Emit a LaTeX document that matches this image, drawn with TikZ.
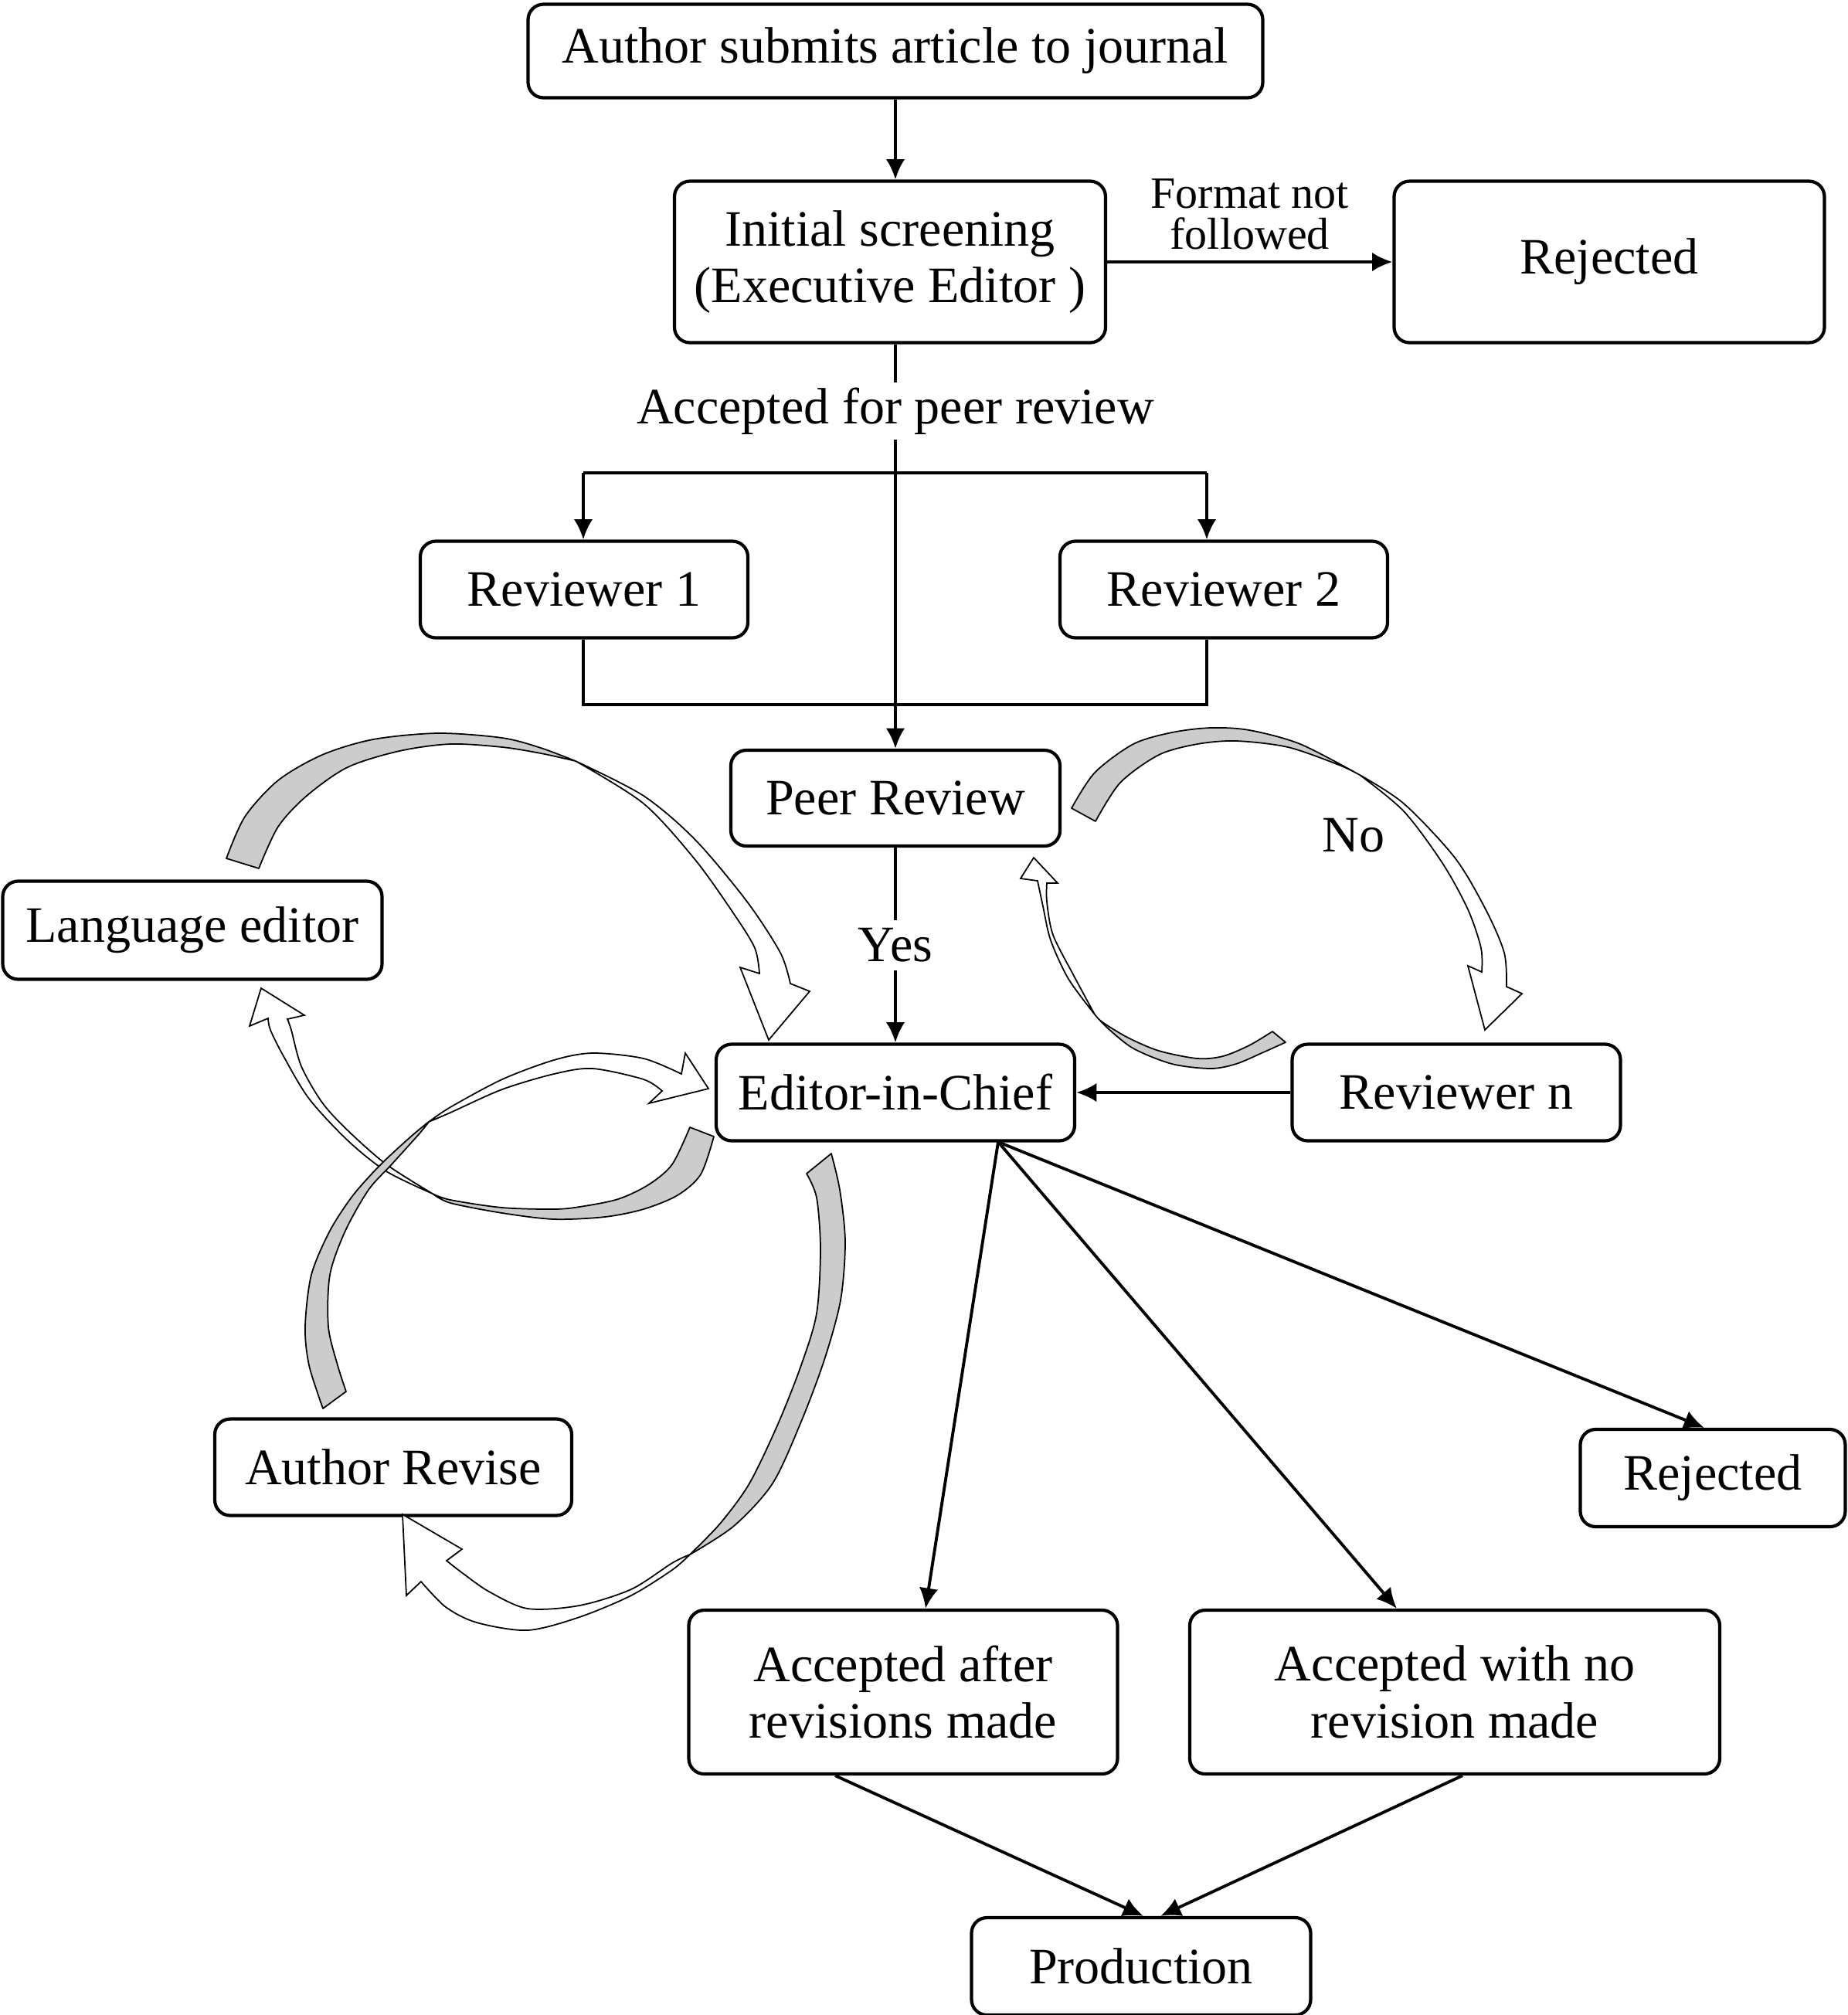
\documentclass[tikz,border=0pt]{standalone}
\usepackage{fontspec}
\setmainfont{Liberation Serif}
\usetikzlibrary{arrows.meta}

\begin{document}
\begin{tikzpicture}[> = {Latex[length = 7.5pt, width = 7pt]},
	box/.style = {draw, line width = 1.2pt, rounded corners = 0.2cm, align = center, inner sep = 2pt, font = \fontsize{18.8}{21}\selectfont},
	link/.style = {line width = 1.1pt},
	lbl/.style = {inner sep = 2pt, font = \fontsize{18.8}{21}\selectfont},
	twist/.style = {draw, line width = 0.5pt, fill = gray!40, line join = round},
	ribbon/.style = {draw, line width = 0.5pt, fill = white, line join = miter}]

	\useasboundingbox (0, 0) rectangle (23.92, -26.08);

	% Boxes

	\node [box, minimum width = 9.51cm, minimum height = 1.21cm] (submit) at (11.59, -0.66) {Author submits article to journal};
	\node [box, minimum width = 5.58cm, minimum height = 2.09cm] (screen) at (11.52, -3.39) {Initial screening\\(Executive Editor )};
	\node [box, minimum width = 5.57cm, minimum height = 2.09cm] (rejtop) at (20.83, -3.39) {Rejected};
	\node [box, minimum width = 4.24cm, minimum height = 1.25cm] (rev1) at (7.56, -7.63) {Reviewer 1};
	\node [box, minimum width = 4.24cm, minimum height = 1.25cm] (rev2) at (15.84, -7.63) {Reviewer 2};
	\node [box, minimum width = 4.26cm, minimum height = 1.24cm] (peer) at (11.59, -10.33) {Peer Review};
	\node [box, minimum width = 4.91cm, minimum height = 1.27cm] (langed) at (2.49, -12.04) {Language editor};
	\node [box, minimum width = 4.64cm, minimum height = 1.25cm] (chief) at (11.59, -14.14) {Editor-in-Chief};
	\node [box, minimum width = 4.25cm, minimum height = 1.25cm] (revn) at (18.85, -14.14) {Reviewer n};
	\node [box, minimum width = 4.62cm, minimum height = 1.25cm] (revise) at (5.09, -18.99) {Author Revise};
	\node [box, minimum width = 3.43cm, minimum height = 1.26cm] (rejbot) at (22.17, -19.13) {Rejected};
	\node [box, minimum width = 5.55cm, minimum height = 2.12cm] (accrev) at (11.69, -21.90) {Accepted after\\revisions made};
	\node [box, minimum width = 6.86cm, minimum height = 2.12cm] (accno) at (18.83, -21.90) {Accepted with no\\revision made};
	\node [box, minimum width = 4.39cm, minimum height = 1.26cm] (prod) at (14.77, -25.45) {Production};

	% Straight connectors

	\draw [link, ->] (submit.south) -- (submit.south |- screen.north);
	\draw [link, ->] (screen) -- node [above = 4pt, inner sep = 0pt, align = center, font = \fontsize{16.5}{15}\selectfont] {Format not\\followed} (rejtop);
	\draw [link, ->] (screen.south -| peer) -- node [lbl, pos = 0.165, fill = white] {Accepted for peer review} (peer.north);

	\coordinate (b1) at (7.55, -6.12);
	\coordinate (b2) at (15.62, -6.12);
	\coordinate (j1) at (7.55, -9.12);
	\coordinate (j2) at (15.62, -9.12);

	\draw [link, ->] (b1) -- (b2) (b1) -- (b1 |- rev1.north);
	\draw [link, ->] (b2) -- (b2 |- rev2.north);
	\draw [link] (j1 |- rev1.south) -- (j1) -- (j2) -- (j2 |- rev2.south);

	\draw [link, ->] (peer) -- node [lbl, fill = white, inner sep = 3pt] {Yes} (chief);
	\draw [link, ->] (revn) -- (chief);
	\node [lbl] (no) at (17.52, -10.81) {No};

	% Decisions

	\coordinate (fan) at (12.92, -14.78);

	\draw [link, ->] (fan) -- ([xshift = 0.29cm] accrev.north);
	\draw [link, ->] (fan) -- ([xshift = -0.75cm] accno.north);
	\draw [link, ->] (fan) -- ([xshift = -0.11cm] rejbot.north);

	\draw [link, ->] ([xshift = -0.88cm] accrev.south) -- ([xshift = 0.03cm] prod.north);
	\draw [link, ->] ([xshift = 0.10cm] accno.south) -- ([xshift = 0.25cm] prod.north);

	% Curved arrows: Language editor to Editor-in-Chief

	\draw [twist] plot [smooth] coordinates {(2.93, -11.11) (3.17, -10.57) (3.60, -10.10) (4.17, -9.77) (4.83, -9.57) (5.67, -9.49) (6.50, -9.55) (7.00, -9.68) (7.45, -9.85)}
		-- plot [smooth] coordinates {(7.45, -9.85) (7.00, -9.75) (6.50, -9.67) (5.83, -9.63) (5.17, -9.72) (4.50, -9.93) (3.97, -10.30) (3.60, -10.70) (3.35, -11.24)} -- cycle;
	\draw [ribbon] plot [smooth] coordinates {(7.45, -9.85) (8.33, -10.30) (9.00, -10.87) (9.67, -11.67) (10.10, -12.33) (10.23, -12.73)}
		-- (10.48, -12.83) -- (9.95, -13.46) -- (9.58, -12.52)
		-- plot [smooth] coordinates {(9.83, -12.60) (9.77, -12.27) (9.50, -11.83) (9.00, -11.13) (8.33, -10.40) (7.45, -9.85)} -- cycle;

	% Editor-in-Chief to Language editor

	\draw [twist] plot [smooth] coordinates {(9.24, -14.71) (9.07, -15.20) (8.77, -15.47) (8.33, -15.65) (7.83, -15.75) (7.17, -15.78) (6.50, -15.70) (5.83, -15.57) (5.60, -15.45)}
		-- plot [smooth] coordinates {(5.60, -15.45) (5.83, -15.53) (6.50, -15.63) (7.17, -15.65) (7.50, -15.62) (8.00, -15.52) (8.40, -15.33) (8.70, -15.07) (8.93, -14.59)} -- cycle;
	\draw [ribbon] plot [smooth] coordinates {(5.60, -15.45) (5.00, -15.16) (4.50, -14.76) (4.00, -14.22) (3.67, -13.67) (3.50, -13.33) (3.47, -13.18)}
		-- (3.23, -13.28) -- (3.38, -12.79) -- (3.94, -13.14)
		-- plot [smooth] coordinates {(3.72, -13.19) (3.77, -13.33) (3.90, -13.80) (4.17, -14.27) (4.50, -14.63) (5.00, -15.07) (5.60, -15.45)} -- cycle;

	% Author Revise to Editor-in-Chief

	\draw [twist] plot [smooth] coordinates {(4.18, -18.23) (4.00, -17.67) (3.95, -17.17) (4.03, -16.50) (4.27, -15.93) (4.57, -15.47) (4.93, -15.07) (5.33, -14.70) (5.55, -14.52)}
		-- plot [smooth] coordinates {(5.55, -14.52) (5.43, -14.67) (5.07, -15.07) (4.77, -15.40) (4.47, -15.93) (4.27, -16.50) (4.25, -17.17) (4.37, -17.67) (4.48, -18.01)} -- cycle;
	\draw [ribbon] plot [smooth] coordinates {(5.55, -14.52) (5.83, -14.33) (6.50, -13.97) (7.17, -13.72) (7.67, -13.63) (8.33, -13.70) (8.82, -13.90)}
		-- (8.87, -13.63) -- (9.17, -14.09) -- (8.40, -14.28)
		-- plot [smooth] coordinates {(8.57, -14.12) (8.33, -13.97) (7.67, -13.83) (7.17, -13.90) (6.50, -14.10) (5.83, -14.40) (5.55, -14.52)} -- cycle;

	% Editor-in-Chief to Author Revise

	\draw [twist] plot [smooth] coordinates {(10.44, -15.19) (10.57, -15.50) (10.62, -16.17) (10.57, -17.00) (10.37, -17.67) (10.07, -18.43) (9.70, -19.20) (9.32, -19.72) (8.93, -20.12)}
		-- plot [smooth] coordinates {(8.93, -20.12) (9.50, -19.75) (10.00, -19.20) (10.37, -18.40) (10.67, -17.60) (10.88, -16.83) (10.94, -16.07) (10.87, -15.40) (10.76, -14.93)} -- cycle;
	\draw [ribbon] plot [smooth] coordinates {(8.93, -20.12) (8.70, -20.32) (8.17, -20.65) (7.50, -20.93) (6.83, -21.10) (6.17, -21.00) (5.77, -20.80) (5.45, -20.47)}
		-- (5.26, -20.65) -- (5.21, -19.60) -- (5.98, -20.05)
		-- plot [smooth] coordinates {(5.78, -20.20) (6.00, -20.37) (6.33, -20.60) (6.83, -20.82) (7.50, -20.78) (8.17, -20.57) (8.70, -20.23) (8.93, -20.12)} -- cycle;

	% Peer Review to Reviewer n

	\draw [twist] plot [smooth] coordinates {(13.87, -10.46) (14.17, -10.00) (14.67, -9.63) (15.17, -9.48) (15.67, -9.42) (16.17, -9.45) (16.83, -9.63) (17.60, -10.03)}
		-- plot [smooth] coordinates {(17.60, -10.03) (17.33, -9.90) (16.67, -9.67) (16.00, -9.59) (15.50, -9.63) (15.00, -9.77) (14.50, -10.13) (14.18, -10.63)} -- cycle;
	\draw [ribbon] plot [smooth] coordinates {(17.60, -10.03) (18.17, -10.40) (18.83, -11.10) (19.23, -11.77) (19.47, -12.33) (19.50, -12.77)}
		-- (19.70, -12.86) -- (19.22, -13.33) -- (19.00, -12.50)
		-- plot [smooth] coordinates {(19.18, -12.58) (19.17, -12.27) (19.00, -11.77) (18.67, -11.17) (18.17, -10.50) (17.60, -10.03)} -- cycle;

	% Reviewer n to Peer Review

	\draw [twist] plot [smooth] coordinates {(16.64, -13.49) (16.33, -13.63) (16.00, -13.77) (15.67, -13.83) (15.17, -13.77) (14.67, -13.57) (14.33, -13.30) (14.17, -13.13)}
		-- plot [smooth] coordinates {(14.17, -13.13) (14.27, -13.23) (14.60, -13.43) (15.00, -13.60) (15.50, -13.70) (15.83, -13.67) (16.17, -13.53) (16.47, -13.35)} -- cycle;
	\draw [ribbon] plot [smooth] coordinates {(14.17, -13.13) (13.83, -12.67) (13.60, -12.17) (13.50, -11.73) (13.43, -11.40)}
		-- (13.21, -11.37) -- (13.38, -11.10) -- (13.69, -11.43)
		-- plot [smooth] coordinates {(13.55, -11.43) (13.55, -11.67) (13.63, -12.10) (13.90, -12.63) (14.17, -13.13)} -- cycle;

\end{tikzpicture}
\end{document}
